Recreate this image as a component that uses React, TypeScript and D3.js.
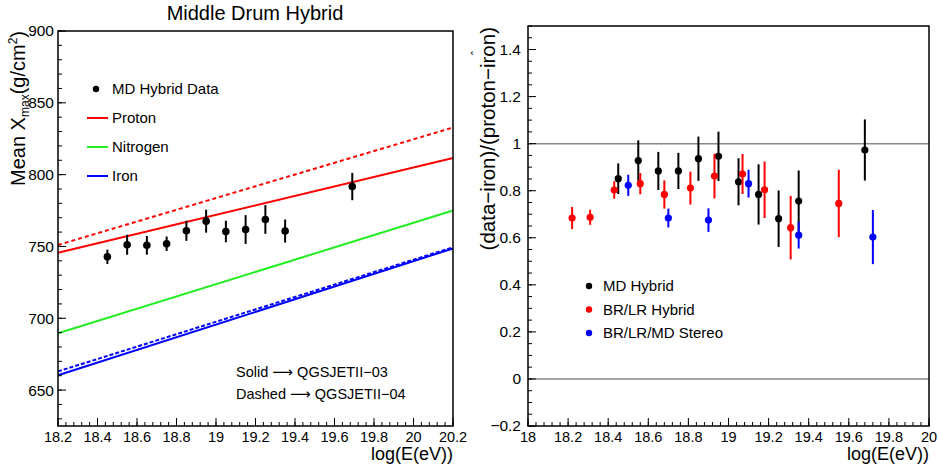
import React from 'react';
import * as d3 from 'd3';

// ---------- Left panel data (Middle Drum Hybrid) ----------
const mdDataX = [18.45, 18.55, 18.65, 18.75, 18.85, 18.95, 19.05, 19.15, 19.25, 19.35, 19.69];
const mdDataY = [742.8, 751.2, 750.8, 751.9, 760.9, 767.6, 760.4, 761.8, 768.8, 760.7, 791.7];
const mdDataErr = [5, 7, 6.5, 5, 7, 8, 7.5, 10, 10, 8, 9.5];

// model lines: values at log(E) = 18.2 and 20.2
const modelX = [18.2, 20.2];
const proton03 = [745.6, 811.6];
const proton04 = [751.0, 832.8];
const nitrogen03 = [689.6, 775.0];
const iron03 = [660.3, 748.6];
const iron04 = [663.0, 749.4];

const leftYTicks = [650, 700, 750, 800, 850, 900];
const leftXTicks = [18.2, 18.4, 18.6, 18.8, 19, 19.2, 19.4, 19.6, 19.8, 20, 20.2];

// ---------- Right panel data ----------
const mdHybX = [18.45, 18.55, 18.65, 18.75, 18.85, 18.95, 19.05, 19.15, 19.25, 19.35, 19.68];
const mdHybY = [0.851, 0.928, 0.884, 0.884, 0.936, 0.946, 0.838, 0.784, 0.681, 0.756, 0.973];
const mdHybErr = [0.065, 0.086, 0.081, 0.077, 0.094, 0.105, 0.1, 0.128, 0.12, 0.13, 0.13];

const brlrX = [18.22, 18.31, 18.43, 18.56, 18.68, 18.81, 18.93, 19.07, 19.18, 19.31, 19.55];
const brlrY = [0.684, 0.687, 0.803, 0.83, 0.784, 0.811, 0.862, 0.871, 0.804, 0.643, 0.746];
const brlrErr = [0.047, 0.032, 0.037, 0.045, 0.06, 0.07, 0.095, 0.085, 0.12, 0.135, 0.143];

const stereoX = [18.5, 18.7, 18.9, 19.1, 19.35, 19.72];
const stereoY = [0.823, 0.684, 0.675, 0.83, 0.611, 0.603];
const stereoErr = [0.045, 0.04, 0.05, 0.059, 0.057, 0.115];

const rightYTicks = [-0.2, 0, 0.2, 0.4, 0.6, 0.8, 1, 1.2, 1.4];
const rightXTicks = [18, 18.2, 18.4, 18.6, 18.8, 19, 19.2, 19.4, 19.6, 19.8, 20];

const FONT = '"Liberation Sans", Arial, sans-serif';
const RED = '#ff0000';
const GREEN = '#22ee22';
const BLUE = '#0000ff';
const TICKFS = 14.5;

function fmt(v: number) {
  const s = String(+v.toFixed(2));
  return s.replace('-', '\u2212');
}

function Frame({ x0, x1, y0, y1 }: any) {
  return <rect x={x0} y={y0} width={x1 - x0} height={y1 - y0} fill="none" stroke="#000" strokeWidth={1.5} />;
}

export default function App() {
  // scales
  const xL = d3.scaleLinear().domain([18.2, 20.2]).range([58, 453]);
  const yL = d3.scaleLinear().domain([625, 900]).range([426, 31]);
  const xR = d3.scaleLinear().domain([18, 20]).range([528, 929]);
  const yR = d3.scaleLinear().domain([-0.2, 1.5]).range([426, 26]);

  const lineL = (vals: number[]) =>
    d3.line<number>().x((_, i) => xL(modelX[i])).y((v) => yL(v))(vals) as string;

  const leftMinorY = d3.range(630, 900.1, 10);
  const leftMinorX = d3.range(18.2, 20.2001, 0.04);
  const rightMinorY = d3.range(-0.2, 1.5001, 0.05);
  const rightMinorX = d3.range(18, 20.0001, 0.04);

  const errSeries = (
    xs: number[], ys: number[], es: number[], color: string,
    xs_: any, ys_: any, r: number, key: string
  ) =>
    xs.map((x, i) => (
      <g key={key + i}>
        <line x1={xs_(x)} x2={xs_(x)} y1={ys_(ys[i] - es[i])} y2={ys_(ys[i] + es[i])} stroke={color} strokeWidth={2} />
        <circle cx={xs_(x)} cy={ys_(ys[i])} r={r} fill={color} />
      </g>
    ));

  return (
    <svg width={939} height={468} style={{ position: 'absolute', left: 0, top: 0, background: '#fff' }} fontFamily={FONT}>
      <rect x={0} y={0} width={939} height={468} fill="#fff" />

      {/* ================= LEFT PANEL ================= */}
      <g>
        <text x={255} y={20} fontSize={20} textAnchor="middle">Middle Drum Hybrid</text>

        {/* model lines */}
        <path d={lineL(proton04)} stroke={RED} strokeWidth={2} fill="none" strokeDasharray="4,3" />
        <path d={lineL(proton03)} stroke={RED} strokeWidth={2} fill="none" />
        <path d={lineL(nitrogen03)} stroke={GREEN} strokeWidth={2} fill="none" />
        <path d={lineL(iron04)} stroke={BLUE} strokeWidth={2} fill="none" strokeDasharray="4,2" />
        <path d={lineL(iron03)} stroke={BLUE} strokeWidth={2} fill="none" />

        {/* data */}
        {errSeries(mdDataX, mdDataY, mdDataErr, '#000', xL, yL, 3.8, 'l')}

        {/* ticks */}
        {leftMinorY.map((v) => (
          <line key={'lmy' + v} x1={58} x2={62} y1={yL(v)} y2={yL(v)} stroke="#000" strokeWidth={1} />
        ))}
        {leftYTicks.map((v) => (
          <g key={'ly' + v}>
            <line x1={58} x2={66} y1={yL(v)} y2={yL(v)} stroke="#000" strokeWidth={1} />
            <text x={54} y={yL(v)} dy="0.35em" fontSize={15.5} textAnchor="end">{fmt(v)}</text>
          </g>
        ))}
        {leftMinorX.map((v, i) => (
          <line key={'lmx' + i} x1={xL(v)} x2={xL(v)} y1={426} y2={422} stroke="#000" strokeWidth={1} />
        ))}
        {leftXTicks.map((v) => (
          <g key={'lx' + v}>
            <line x1={xL(v)} x2={xL(v)} y1={426} y2={418} stroke="#000" strokeWidth={1} />
            <text x={xL(v)} y={442} fontSize={TICKFS} textAnchor="middle">{fmt(v)}</text>
          </g>
        ))}
        <Frame x0={58} x1={453} y0={31} y1={426} />

        {/* axis titles */}
        <text x={453} y={460} fontSize={18} textAnchor="end">log(E(eV))</text>
        <text transform="translate(25,31) rotate(-90)" fontSize={20} textAnchor="end">
          <tspan>Mean X</tspan>
          <tspan fontSize={12} dy={4}>max</tspan>
          <tspan dy={-4}>(g/cm</tspan>
          <tspan fontSize={12} dy={-8}>2</tspan>
          <tspan dy={8}>)</tspan>
        </text>

        {/* legend */}
        <circle cx={96} cy={89} r={3.2} fill="#000" />
        <text x={112} y={89} dy="0.35em" fontSize={15}>MD Hybrid Data</text>
        <line x1={87} x2={108} y1={118} y2={118} stroke={RED} strokeWidth={2} />
        <text x={112} y={118} dy="0.35em" fontSize={15}>Proton</text>
        <line x1={87} x2={108} y1={147} y2={147} stroke={GREEN} strokeWidth={2} />
        <text x={112} y={147} dy="0.35em" fontSize={15}>Nitrogen</text>
        <line x1={87} x2={108} y1={176} y2={176} stroke={BLUE} strokeWidth={2} />
        <text x={112} y={176} dy="0.35em" fontSize={15}>Iron</text>

        {/* annotations */}
        <text x={236} y={372} dy="0.35em" fontSize={14.5}>
          Solid <tspan fontFamily='"DejaVu Sans", sans-serif'>{'\u27f6'}</tspan> QGSJETII{'\u2212'}03
        </text>
        <text x={236} y={394} dy="0.35em" fontSize={14.5}>
          Dashed <tspan fontFamily='"DejaVu Sans", sans-serif'>{'\u27f6'}</tspan> QGSJETII{'\u2212'}04
        </text>
      </g>

      {/* ================= RIGHT PANEL ================= */}
      <rect x={469} y={0} width={470} height={468} fill="#fff" />
      <g>
        {/* reference lines */}
        <line x1={528} x2={929} y1={yR(1)} y2={yR(1)} stroke="#888" strokeWidth={1.5} />
        <line x1={528} x2={929} y1={yR(0)} y2={yR(0)} stroke="#888" strokeWidth={1.5} />

        {errSeries(mdHybX, mdHybY, mdHybErr, '#000', xR, yR, 3.6, 'a')}
        {errSeries(brlrX, brlrY, brlrErr, RED, xR, yR, 3.6, 'b')}
        {errSeries(stereoX, stereoY, stereoErr, BLUE, xR, yR, 3.6, 'c')}

        {rightMinorY.map((v, i) => (
          <line key={'rmy' + i} x1={528} x2={532} y1={yR(v)} y2={yR(v)} stroke="#000" strokeWidth={1} />
        ))}
        {rightYTicks.map((v) => (
          <g key={'ry' + v}>
            <line x1={528} x2={536} y1={yR(v)} y2={yR(v)} stroke="#000" strokeWidth={1} />
            <text x={521} y={yR(v)} dy="0.35em" fontSize={15.5} textAnchor="end">{fmt(v)}</text>
          </g>
        ))}
        {rightMinorX.map((v, i) => (
          <line key={'rmx' + i} x1={xR(v)} x2={xR(v)} y1={426} y2={422} stroke="#000" strokeWidth={1} />
        ))}
        {rightXTicks.map((v) => (
          <g key={'rx' + v}>
            <line x1={xR(v)} x2={xR(v)} y1={426} y2={418} stroke="#000" strokeWidth={1} />
            <text x={xR(v)} y={442} fontSize={TICKFS} textAnchor="middle">{fmt(v)}</text>
          </g>
        ))}
        <Frame x0={528} x1={929} y0={26} y1={426} />

        <text x={929} y={460} fontSize={18} textAnchor="end">log(E(eV))</text>
        <text transform="translate(495,27) rotate(-90)" fontSize={20.5} textAnchor="end">(data{'\u2212'}iron)/(proton{'\u2212'}iron)</text>
        <text transform="translate(481,53) rotate(-90)" fontSize={12} textAnchor="middle">{'\u02c6'}</text>

        {/* legend */}
        <circle cx={589} cy={286} r={3.2} fill="#000" />
        <text x={603} y={286} dy="0.35em" fontSize={15}>MD Hybrid</text>
        <circle cx={589} cy={309.5} r={3.2} fill={RED} />
        <text x={603} y={309.5} dy="0.35em" fontSize={15}>BR/LR Hybrid</text>
        <circle cx={589} cy={333} r={3.2} fill={BLUE} />
        <text x={603} y={333} dy="0.35em" fontSize={15}>BR/LR/MD Stereo</text>
      </g>
    </svg>
  );
}
